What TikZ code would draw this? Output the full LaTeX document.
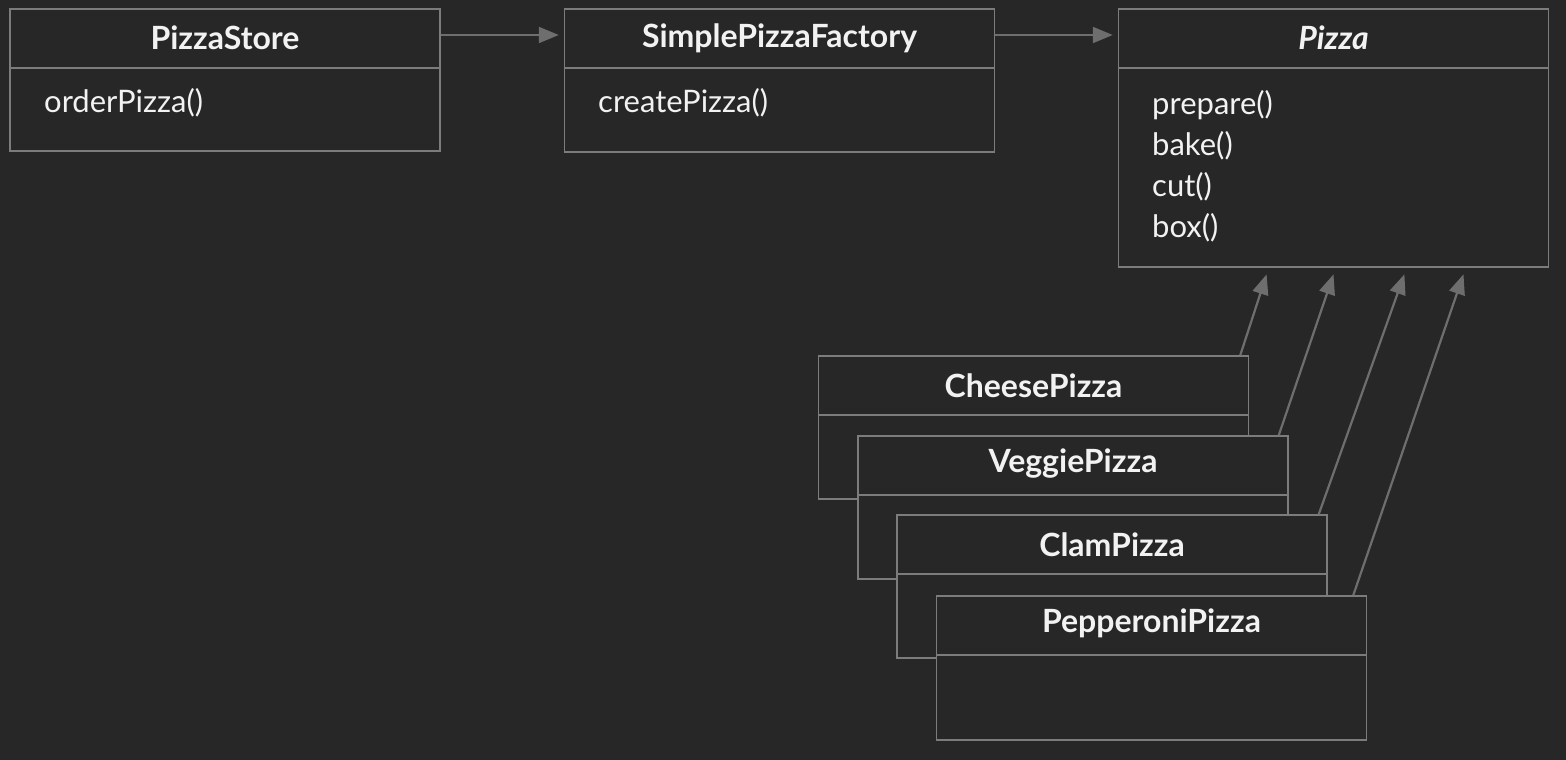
\documentclass[tikz,border=0pt]{standalone}
\usepackage{fontspec}
\setmainfont{Lato}
\usepackage{xcolor}
\usepackage{tikz}
\usetikzlibrary{arrows.meta}

\definecolor{bgdark}{HTML}{272727}
\definecolor{boxline}{HTML}{7C7C7C}
\definecolor{arrowgray}{HTML}{6E6E6E}
\definecolor{textwhite}{HTML}{F2F2F2}

\tikzset{
  classbox/.style={draw=boxline,line width=1.5pt,fill=bgdark,minimum width=430pt,inner sep=0pt},
  classname/.style={text=textwhite,font=\fontsize{32}{36}\selectfont\bfseries},
  method/.style={text=textwhite,font=\fontsize{31}{41}\selectfont,align=left,anchor=west,inner sep=0pt},
  divider/.style={draw=boxline,line width=1.5pt},
  uses/.style={draw=arrowgray,line width=2.2pt,-{Triangle[length=20pt,width=16pt]},shorten >=5pt},
  extends/.style={draw=arrowgray,line width=2.2pt,-{Triangle[length=20pt,width=16pt]},shorten >=7pt}
}

\begin{document}
\begin{tikzpicture}[x=1pt,y=-1pt]
  	\fill[bgdark] (0,0) rectangle (1566,760);

  	% top row
  	\node[classbox,minimum height=142pt] (store) at (225,80) {};
  	\draw[divider] (10,68) -- (440,68);
  	\node[classname] (storename) at (225,38) {PizzaStore};
  	\node[method] (storeops) at (44,103) {orderPizza()};

  	\node[classbox,minimum height=143pt] (factory) at (779.5,80.5) {};
  	\draw[divider] (565,68) -- (994,68);
  	\node[classname] (factoryname) at (779.5,38) {SimplePizzaFactory};
  	\node[method] (factoryops) at (598,103) {createPizza()};

  	\node[classbox,minimum height=258pt] (pizza) at (1333.5,138) {};
  	\draw[divider] (1119,68) -- (1548,68);
  	\node[classname] (pizzaname) at (1333.5,38) {\itshape Pizza};
  	\node[method] (pizzaops) at (1152,166) {prepare()\\bake()\\cut()\\box()};

  	% stacked subclasses
  	\node[classbox,minimum height=143pt] (cheese) at (1033.5,427.5) {};
  	\draw[divider] (819,415) -- (1248,415);
  	\node[classname] (cheesename) at (1033.5,386) {CheesePizza};

  	\node[classbox,minimum height=143pt] (veggie) at (1073,507.5) {};
  	\draw[divider] (858,495) -- (1288,495);
  	\node[classname] (veggiename) at (1073,464) {VeggiePizza};

  	\node[classbox,minimum height=143pt] (clam) at (1112,586.5) {};
  	\draw[divider] (897,574) -- (1327,574);
  	\node[classname] (clamname) at (1112,545) {ClamPizza};

  	\node[classbox,minimum height=144pt] (pepperoni) at (1151.5,668) {};
  	\draw[divider] (937,655) -- (1366,655);
  	\node[classname] (pepperoniname) at (1151.5,623) {PepperoniPizza};

  	\draw[uses] ([yshift=3pt]store.east |- storename) -- ([yshift=3pt]factory.west |- storename);
  	\draw[uses] ([yshift=3pt]factory.east |- factoryname) -- ([yshift=3pt]pizza.west |- factoryname);

  	\draw[extends] ([xshift=-9pt]cheese.north east) -- ([xshift=151pt]pizza.south west);
  	\draw[extends] ([xshift=-10pt]veggie.north east) -- ([xshift=218pt]pizza.south west);
  	\draw[extends] ([xshift=-9pt]clam.north east) -- ([xshift=289pt]pizza.south west);
  	\draw[extends] ([xshift=-14pt]pepperoni.north east) -- ([xshift=348pt]pizza.south west);
\end{tikzpicture}
\end{document}
